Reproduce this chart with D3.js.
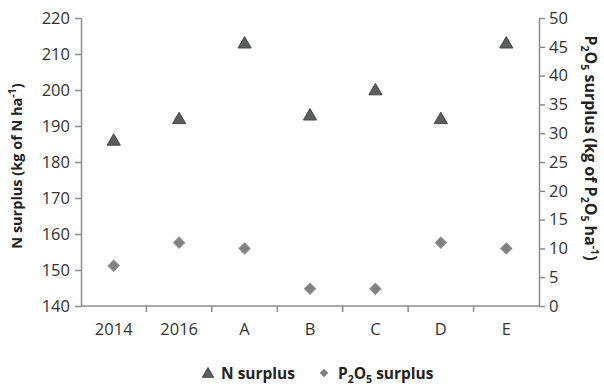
<!DOCTYPE html>
<html>
<head>
<meta charset="utf-8">
<script src="https://cdn.jsdelivr.net/npm/d3@7"></script>
<style>
  body { margin: 0; background: #fff; }
  text { font-family: "Open Sans", sans-serif; fill: #333; }
  .axis path, .axis line { stroke: #8c8c8c; stroke-width: 1.5; }
  .axis text { font-size: 16.5px; }
  .lbl { font-size: 15.5px; font-weight: bold; fill: #222; }
</style>
</head>
<body>
<div id="chart"></div>
<script>
// data
const categories = ["2014", "2016", "A", "B", "C", "D", "E"];
const nSurplus = [186, 192, 213, 193, 200, 192, 213];
const pSurplus = [7, 11, 10, 3, 3, 11, 10];
const leftTicks = [140, 150, 160, 170, 180, 190, 200, 210, 220];
const rightTicks = [0, 5, 10, 15, 20, 25, 30, 35, 40, 45, 50];

const SVG_WIDTH = 604;
const SVG_HEIGHT = 389;
const MARGIN = {top: 18, right: 65, bottom: 83, left: 81};
const WIDTH = SVG_WIDTH - MARGIN.left - MARGIN.right;
const HEIGHT = SVG_HEIGHT - MARGIN.top - MARGIN.bottom;

const svg = d3.select("#chart").append("svg")
    .attr("width", SVG_WIDTH).attr("height", SVG_HEIGHT);
const g = svg.append("g").attr("transform", `translate(${MARGIN.left}, ${MARGIN.top})`);

const x = d3.scaleBand().domain(categories).range([0, WIDTH]);
const yL = d3.scaleLinear().domain([140, 220]).range([HEIGHT, 0]);
const yR = d3.scaleLinear().domain([0, 50]).range([HEIGHT, 0]);

// axes
g.append("g").attr("class", "axis")
    .call(d3.axisLeft(yL).tickValues(leftTicks).tickSize(6).tickPadding(5).tickSizeOuter(0));
g.append("g").attr("class", "axis")
    .attr("transform", `translate(${WIDTH},0)`)
    .call(d3.axisRight(yR).tickValues(rightTicks).tickSize(6).tickPadding(4).tickSizeOuter(0));

const xAxis = g.append("g").attr("class", "axis")
    .attr("transform", `translate(0, ${HEIGHT})`)
    .call(d3.axisBottom(x).tickSize(0).tickPadding(17));
// tick marks between categories
xAxis.selectAll(".sep")
    .data(categories.slice(1))
    .enter().append("line")
    .attr("class", "sep")
    .attr("x1", d => x(d)).attr("x2", d => x(d))
    .attr("y1", 0).attr("y2", 6);
xAxis.select(".domain").attr("d", `M0,0H${WIDTH}`);

// helper for text with sub/superscripts: parts = [[text, shift]]
function richText(sel, parts) {
    let prev = 0;
    parts.forEach(([t, s]) => {
        const span = sel.append("tspan").text(t).attr("dy", s - prev);
        if (s !== 0) span.attr("font-size", "10.5px");
        prev = s;
    });
    return sel;
}

// axis labels
const lLabel = svg.append("text").attr("class", "lbl")
    .style("font-size", "14.5px")
    .attr("transform", `translate(22, 166) rotate(-90)`)
    .attr("text-anchor", "middle");
richText(lLabel, [["N surplus (kg of N ha", 0], ["-1", -6], [")", 0]]);

const rLabel = svg.append("text").attr("class", "lbl")
    .style("font-size", "16px")
    .attr("transform", `translate(585, 148) rotate(90)`)
    .attr("text-anchor", "middle");
richText(rLabel, [["P", 0], ["2", 4], ["O", 0], ["5", 4], [" surplus (kg of P", 0], ["2", 4],
    ["O", 0], ["5", 4], [" ha", 0], ["-1", -6], [")", 0]]);

// markers
const tri = d3.symbol().type(d3.symbolTriangle).size(75);
const dia = d3.symbol().type(d3.symbolSquare).size(62);

g.selectAll(".psym")
    .data(pSurplus)
    .enter().append("path")
    .attr("class", "psym")
    .attr("d", dia)
    .attr("transform", (d, i) => `translate(${x(categories[i]) + x.bandwidth() / 2}, ${yR(d)}) rotate(45)`)
    .attr("fill", "#808080").attr("stroke", "#8f8f8f").attr("stroke-width", 1);

g.selectAll(".nsym")
    .data(nSurplus)
    .enter().append("path")
    .attr("class", "nsym")
    .attr("d", tri)
    .attr("transform", (d, i) => `translate(${x(categories[i]) + x.bandwidth() / 2}, ${yL(d) + 1})`)
    .attr("fill", "#5c5d5d").attr("stroke", "#454545").attr("stroke-width", 1);

// legend
const legend = svg.append("g").attr("transform", "translate(0, 379)");
legend.append("path").attr("d", d3.symbol().type(d3.symbolTriangle).size(55))
    .attr("transform", "translate(208, -5)")
    .attr("fill", "#5c5d5d").attr("stroke", "#454545");
legend.append("text").attr("class", "lbl").attr("x", 221).attr("y", 0).text("N surplus");
legend.append("path").attr("d", d3.symbol().type(d3.symbolSquare).size(36))
    .attr("transform", "translate(324, -6) rotate(45)")
    .attr("fill", "#808080");
richText(legend.append("text").attr("class", "lbl").attr("x", 338).attr("y", 0),
    [["P", 0], ["2", 4], ["O", 0], ["5", 4], [" surplus", 0]]);
</script>
</body>
</html>
